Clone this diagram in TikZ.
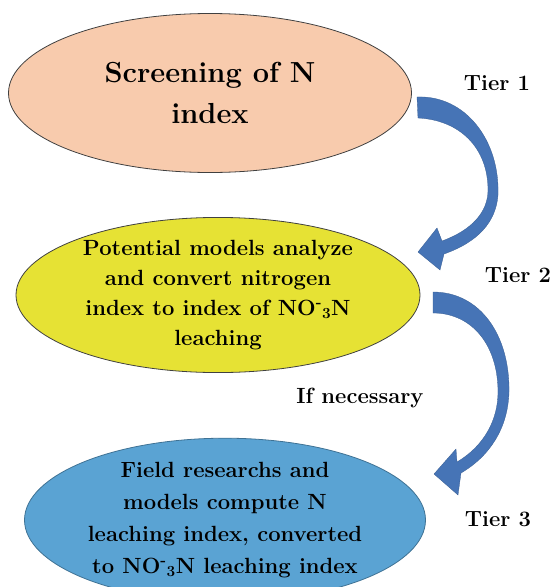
\documentclass[tikz,border=0pt]{standalone}
\usetikzlibrary{shapes.geometric}

\definecolor{peach}{RGB}{248,203,173}
\definecolor{lemon}{RGB}{230,226,52}
\definecolor{sky}{RGB}{90,163,211}
\definecolor{arrowblue}{RGB}{70,116,182}

\begin{document}
\begin{tikzpicture}[x=1pt, y=-1pt,
	blob/.style={ellipse, draw=black!75, line width=0.8pt, inner sep=0pt, align=center},
	tier/.style={font=\bfseries\fontsize{22}{26}\selectfont},
	bendarrow/.style={fill=arrowblue, draw=arrowblue!80!black, line width=0.3pt}]
	\useasboundingbox (0,0) rectangle (554,587);
	% the three tiers
	\node[blob, fill=peach, minimum width=403pt, minimum height=159pt,
		font=\bfseries\fontsize{29}{41}\selectfont] (screen) at (210,93) {Screening of N\\index};
	\node[blob, fill=lemon, minimum width=404pt, minimum height=145pt,
		font=\bfseries\fontsize{22}{30}\selectfont] (model) at (218,295)
		{Potential models analyze\\and convert nitrogen\\index to index of NO\textsuperscript{-}\textsubscript{3}N\\leaching};
	\node[blob, fill=sky, draw=sky!70!black, minimum width=401pt, minimum height=152pt,
		font=\bfseries\fontsize{22}{32}\selectfont] (field) at (225,520)
		{Field researchs and\\models compute N\\leaching index, converted\\to NO\textsuperscript{-}\textsubscript{3}N leaching index};
	% labels
	\node[tier] (t1) at (497,83) {Tier 1};
	\node[tier] (t2) at (518,275) {Tier 2};
	\node[tier] (t3) at (498,519) {Tier 3};
	\node[tier] (nec) at (360,398) {If necessary};
	% curved block arrows
	\fill[bendarrow] (417,97) .. controls (465,95) and (500,140) .. (498,195)
		.. controls (496,222) and (478,242) .. (444,254)
		-- (440,270) -- (418,252) -- (437,228) -- (442,241)
		.. controls (472,230) and (488,212) .. (488,190)
		.. controls (488,148) and (460,120) .. (418,118) -- cycle;
	\fill[bendarrow] (433,292) .. controls (480,292) and (510,335) .. (509,392)
		.. controls (508,428) and (490,456) .. (461,473)
		-- (458,495) -- (434,474) -- (456,449) -- (457,462)
		.. controls (484,446) and (498,420) .. (498,392)
		.. controls (498,345) and (472,313) .. (433,313) -- cycle;
\end{tikzpicture}
\end{document}
